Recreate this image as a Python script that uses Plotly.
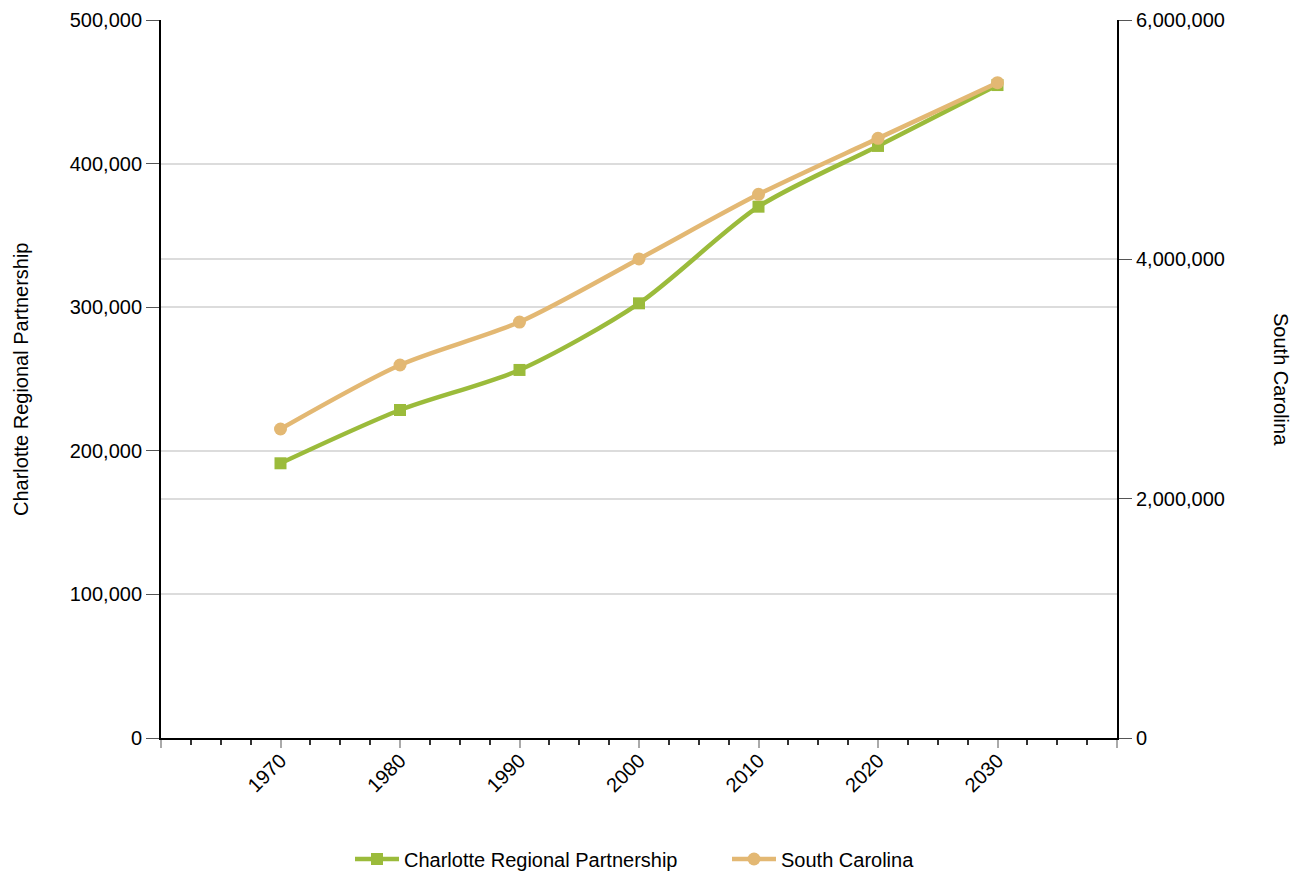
import plotly.graph_objects as go

years = [1970, 1980, 1990, 2000, 2010, 2020, 2030]
charlotte = [191300, 228400, 256300, 302700, 370000, 412300, 454700]
south_carolina = [2582000, 3117000, 3476000, 4003000, 4543000, 5011000, 5476000]

x_tickvals = [1960, 1970, 1980, 1990, 2000, 2010, 2020, 2030, 2040]
x_ticktext = ["", "1970", "1980", "1990", "2000", "2010", "2020", "2030", ""]
left_tickvals = [0, 100000, 200000, 300000, 400000, 500000]
right_tickvals = [0, 2000000, 4000000, 6000000]

green = "#9bbb3b"
tan = "#e3b873"
font_family = "Liberation Sans, Arial, sans-serif"

# page body has an 8px margin; figure is sized to fit inside the window
W, H = 1286, 863
OFF = 8
L, T, R, B = 161 - OFF, 20 - OFF, 1117 - OFF, 738 - OFF
PW, PH = R - L, B - T

fig = go.Figure()
fig.add_trace(go.Scatter(
    x=years, y=charlotte, name="Charlotte Regional Partnership",
    mode="lines+markers", line=dict(color=green, width=4.5, shape="spline", smoothing=0.8),
    marker=dict(symbol="square", size=12, color=green), yaxis="y"))
fig.add_trace(go.Scatter(
    x=years, y=south_carolina, name="South Carolina",
    mode="lines+markers", line=dict(color=tan, width=4.5, shape="spline", smoothing=0.8),
    marker=dict(symbol="circle", size=13, color=tan), yaxis="y2"))

fig.update_layout(
    width=W, height=H,
    margin=dict(l=L, r=W - R, t=T, b=H - B, pad=0, autoexpand=False),
    plot_bgcolor="white", paper_bgcolor="white",
    font=dict(family=font_family, size=20, color="#000"),
    showlegend=True,
    legend=dict(orientation="h", x=(350 - OFF) / W, xanchor="left", xref="container",
                y=1 - (859 - OFF) / H, yanchor="middle", yref="container",
                font=dict(size=20), itemwidth=44, entrywidth=318, entrywidthmode="pixels"),
    xaxis=dict(range=[1960, 2040], tickmode="array", tickvals=x_tickvals, ticktext=x_ticktext,
               tickangle=-45, ticks="outside", ticklen=8, tickwidth=2, tickcolor="#aaaaaa",
               showline=True, linecolor="#000", linewidth=2, showgrid=False, zeroline=False,
               automargin=False, ticklabelstandoff=-7,
               minor=dict(dtick=2.5, tick0=1960, ticks="outside", ticklen=5, tickwidth=1.5,
                          tickcolor="#333", showgrid=False),
               tickfont=dict(size=20)),
    yaxis=dict(range=[0, 500000], tickmode="array", tickvals=left_tickvals, tickformat=",",
               ticks="outside", ticklen=13, tickwidth=1, tickcolor="#555",
               showline=True, linecolor="#000", linewidth=2, automargin=False,
               showgrid=True, gridcolor="#dcdcdc", gridwidth=2, zeroline=False,
               tickfont=dict(size=20)),
    yaxis2=dict(range=[0, 6000000], tickmode="array", tickvals=right_tickvals, tickformat=",",
                overlaying="y", side="right", automargin=False,
                ticks="outside", ticklen=13, tickwidth=1, tickcolor="#555",
                showline=True, linecolor="#000", linewidth=2,
                showgrid=True, gridcolor="#dcdcdc", gridwidth=2, zeroline=False,
                tickfont=dict(size=20)),
    annotations=[
        dict(text="Charlotte Regional Partnership", xref="paper", yref="paper",
             x=(21 - 161) / PW, y=(738 - 379) / PH, textangle=-90, showarrow=False,
             xanchor="center", yanchor="middle", font=dict(size=20)),
        dict(text="South Carolina", xref="paper", yref="paper",
             x=(1281 - 161) / PW, y=(738 - 379) / PH, textangle=90, showarrow=False,
             xanchor="center", yanchor="middle", font=dict(size=20)),
    ],
)

fig.write_html("out.html")
